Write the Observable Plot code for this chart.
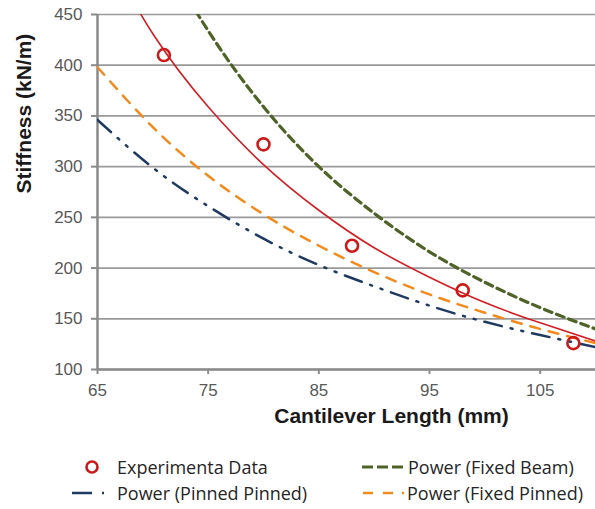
<!DOCTYPE html>
<html>
<head>
<meta charset="utf-8">
<script src="https://cdn.jsdelivr.net/npm/d3@7"></script>
<script src="https://cdn.jsdelivr.net/npm/@observablehq/plot@0.6"></script>
<style>
  html, body { margin: 0; padding: 0; background: #fff; }
  #wrap { width: 595px; }
  #legend { position: relative; width: 595px; height: 79px; font-family: "Open Sans", sans-serif; font-size: 18px; color: #262626; }
  #legend .lbl { position: absolute; line-height: 1; transform: translateY(-50%); white-space: nowrap; }
  #legend svg { position: absolute; overflow: visible; }
</style>
</head>
<body>
<div id="wrap"></div>
<script>
// ---- data ----
const xTicks = [65, 75, 85, 95, 105];
const yTicks = [100, 150, 200, 250, 300, 350, 400, 450];

const expLength = [71, 80, 88, 98, 108];
const expStiffness = [410, 322, 222, 178, 126];

const curveLength = [65, 70, 75, 80, 85, 90, 95, 100, 105, 110];
const fitExperimental = [526, 431, 359, 302, 257, 220, 191, 166, 146, 128];
const fitFixedBeam   = [663, 532, 434, 359, 300, 254, 216, 186, 161, 140];
const fitFixedPinned = [398, 339, 291, 253, 222, 196, 174, 156, 140, 126];
const fitPinnedPinned = [346, 299, 261, 229, 203, 182, 163, 147, 134, 122];

const seriesNames = ["Experimenta Data", "Power (Fixed Beam)", "Power (Pinned Pinned)", "Power (Fixed Pinned)"];

// ---- build tables ----
const expData = expLength.map((L, i) => ({L, k: expStiffness[i]}));
const toRows = (vals) => curveLength.map((L, i) => ({L, k: vals[i]}));

const red = "#d21f26", green = "#4f6228", orange = "#f28a1e", navy = "#1f3a60";

const chart = Plot.plot({
  width: 595,
  height: 430,
  marginLeft: 97,
  marginRight: 0,
  marginTop: 14,
  marginBottom: 61,
  style: {fontFamily: "'Liberation Sans', Arial, sans-serif", fontSize: "17px", color: "#595959", background: "#fff"},
  x: {domain: [65, 110]},
  y: {domain: [100, 450]},
  marks: [
    Plot.gridY(yTicks, {stroke: "#9a9a9a", strokeOpacity: 1, strokeWidth: 1.7}),
    Plot.ruleX([65], {stroke: "#8a8a8a", strokeWidth: 2.5}),
    Plot.ruleY([100], {stroke: "#8a8a8a", strokeWidth: 2.5}),
    Plot.axisY(yTicks, {tickSize: 6, tickPadding: 9, stroke: "#8a8a8a", strokeWidth: 2, fill: "#595959", fontSize: 17, label: null}),
    Plot.axisX(xTicks, {tickSize: 5, tickPadding: 9, stroke: "#8a8a8a", strokeWidth: 2, fill: "#595959", fontSize: 17, label: null}),
    Plot.line(toRows(fitPinnedPinned), {x: "L", y: "k", curve: "natural", stroke: navy, strokeWidth: 2.5, strokeDasharray: "18,9,2,9,2,9", clip: true}),
    Plot.line(toRows(fitFixedPinned), {x: "L", y: "k", curve: "natural", stroke: orange, strokeWidth: 2.5, strokeDasharray: "10,9", clip: true}),
    Plot.line(toRows(fitFixedBeam), {x: "L", y: "k", curve: "natural", stroke: green, strokeWidth: 3.2, strokeDasharray: "8,5", clip: true}),
    Plot.line(toRows(fitExperimental), {x: "L", y: "k", curve: "natural", stroke: red, strokeWidth: 1.6, clip: true}),
    Plot.dot(expData, {x: "L", y: "k", r: 6, stroke: "#cc1a1a", strokeWidth: 2.6, fill: "none"}),
    Plot.text(["Cantilever Length (mm)"], {frameAnchor: "bottom", text: d => d, dx: 45, dy: 53, fontWeight: "bold", fontSize: 21, fill: "#1a1a1a"}),
    Plot.text(["Stiffness (kN/m)"], {frameAnchor: "left", text: d => d, rotate: -90, dx: -73, dy: 1.5, fontWeight: "bold", fontSize: 21, fill: "#1a1a1a"})
  ]
});
// enlarge numeric tick labels
chart.querySelectorAll("text").forEach(t => {
  if (/^\d+$/.test(t.textContent.trim())) t.style.fontSize = "17px";
});
document.getElementById("wrap").appendChild(chart);

// ---- legend (below the SVG) ----
const legend = document.createElement("div");
legend.id = "legend";
const row1 = 37, row2 = 63;
function swatch(x, y, inner) {
  const s = `<svg style="left:${x}px;top:${y - 10}px" width="60" height="20">${inner}</svg>`;
  legend.insertAdjacentHTML("beforeend", s);
}
function label(x, y, t) {
  const d = document.createElement("div");
  d.className = "lbl";
  d.style.left = x + "px";
  d.style.top = y + "px";
  d.textContent = t;
  legend.appendChild(d);
}
swatch(86, row1, `<circle cx="6" cy="10" r="5.5" fill="none" stroke="#cc1a1a" stroke-width="2.6"/>`);
label(117, row1, seriesNames[0]);
swatch(362, row1, `<line x1="0" y1="10" x2="41" y2="10" stroke="${green}" stroke-width="3.2" stroke-dasharray="11,4"/>`);
label(408, row1, seriesNames[1]);
swatch(72, row2, `<line x1="0" y1="10" x2="20" y2="10" stroke="${navy}" stroke-width="2.5"/><line x1="30" y1="10" x2="32" y2="10" stroke="${navy}" stroke-width="2.5"/>`);
label(117, row2, seriesNames[2]);
swatch(363, row2, `<line x1="0" y1="10" x2="10" y2="10" stroke="${orange}" stroke-width="2.5"/><line x1="20" y1="10" x2="30" y2="10" stroke="${orange}" stroke-width="2.5"/><line x1="39" y1="10" x2="41" y2="10" stroke="${orange}" stroke-width="2.5"/>`);
label(407, row2, seriesNames[3]);
document.getElementById("wrap").appendChild(legend);
</script>
</body>
</html>
